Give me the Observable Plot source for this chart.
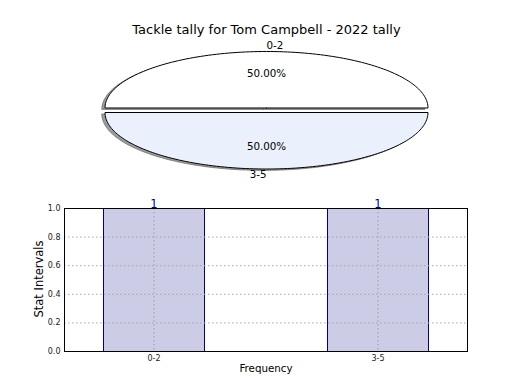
<!DOCTYPE html>
<html><head><meta charset="utf-8">
<script src="https://cdn.jsdelivr.net/npm/d3@7"></script>
<script src="https://cdn.jsdelivr.net/npm/@observablehq/plot@0.6"></script>
<style>
body{margin:0;background:#fff;font-family:"DejaVu Sans",sans-serif;}
#fig{position:relative;width:520px;height:390px;overflow:hidden;background:#fff;}
#title{position:absolute;left:0;width:533px;top:23px;line-height:13px;text-align:center;font-size:13px;color:#000;}
#pie{position:absolute;left:0;top:0;}
#bar{position:absolute;left:0;top:195px;}
</style></head><body>
<div id="fig"><div id="pie"></div><div id="bar"></div><div id="title">Tackle tally for Tom Campbell - 2022 tally</div></div>
<script>
const categories = ["0-2", "3-5"];
const counts = [1, 1];
const pieColors = ["#ffffff", "#ebf1fc"];
const yTicks = [0, 0.2, 0.4, 0.6, 0.8, 1.0];
const title = "Tackle tally for Tom Campbell - 2022 tally";
const xLabel = "Frequency";
const yLabel = "Stat Intervals";

const data = categories.map((c, i) => ({c, v: counts[i]}));
const total = d3.sum(counts);
const explode = 0.04;
let acc = 0;
const wedges = categories.map((c, i) => {
  const a0 = acc, a1 = acc + counts[i] / total * 2 * Math.PI; acc = a1;
  const mid = (a0 + a1) / 2;
  return {c, i, a0, a1, mid, cx: explode * Math.cos(mid), cy: explode * Math.sin(mid), pct: counts[i] / total * 100};
});
function wedgePts(w, ox = 0, oy = 0) {
  const pts = [{x: w.cx + ox, y: w.cy + oy}];
  const n = 120;
  for (let k = 0; k <= n; k++) {
    const t = w.a0 + (w.a1 - w.a0) * k / n;
    pts.push({x: w.cx + ox + Math.cos(t), y: w.cy + oy + Math.sin(t)});
  }
  pts.push({x: w.cx + ox, y: w.cy + oy});
  return pts;
}
const font = {fontFamily: "DejaVu Sans", background: "transparent", overflow: "visible"};

const pie = Plot.plot({
  width: 520, height: 195,
  marginLeft: 104.5, marginRight: 92.5, marginTop: 53.25, marginBottom: 28.75,
  x: {domain: [-1, 1], axis: null},
  y: {domain: [-1, 1], axis: null},
  style: {...font, fontSize: "10px"},
  marks: [
    ...wedges.map(w => Plot.line(wedgePts(w, -0.02, -0.025), {x: "x", y: "y", fill: "#4d4d4d", fillOpacity: 0.55, stroke: "#4d4d4d", strokeOpacity: 0.55, strokeWidth: 1})),
    ...wedges.map(w => Plot.line(wedgePts(w), {x: "x", y: "y", fill: pieColors[w.i], stroke: "black", strokeWidth: 1})),
    Plot.text(wedges, {x: w => w.cx + 0.6 * Math.cos(w.mid), y: w => w.cy + 0.6 * Math.sin(w.mid), text: w => w.pct.toFixed(2) + "%", fontSize: 10.3, fill: "black"}),
    ...wedges.map(w => Plot.text([w], {x: d => d.cx + 1.1 * Math.cos(d.mid), y: d => d.cy + 1.1 * Math.sin(d.mid), text: "c", fontSize: 10.3, fill: "black",
      textAnchor: Math.cos(w.mid) > 0 ? "start" : "end"}))
  ]
});
document.getElementById("pie").append(pie);

const bar = Plot.plot({
  width: 520, height: 195,
  marginLeft: 64, marginRight: 53, marginTop: 13, marginBottom: 39,
  x: {domain: categories, paddingInner: 0.549, paddingOuter: 0.174, align: 0.5, label: null},
  y: {domain: [0, 1], label: null},
  style: {...font, fontSize: "8px"},
  marks: [
    Plot.barY(data, {x: "c", y: "v", fill: "#cccce6", stroke: "#000080", strokeWidth: 1, shapeRendering: "crispEdges"}),
    Plot.gridY({ticks: yTicks, stroke: "#a8a8a8", strokeOpacity: 1, strokeWidth: 1, strokeDasharray: "1.5,2.5"}),
    Plot.gridX({stroke: "#a0a0a0", strokeOpacity: 1, strokeWidth: 1, strokeDasharray: "1.5,2.5"}),
    Plot.frame({stroke: "black", strokeWidth: 1}),
    Plot.axisY({ticks: yTicks, tickFormat: d3.format(".1f"), tickSize: 0, tickPadding: 4, fontSize: 8, label: null, fill: "#222"}),
    Plot.axisX({tickSize: 0, tickPadding: 4, fontSize: 8, label: null, fill: "#222"}),
    Plot.text([yLabel], {frameAnchor: "left", textAnchor: "middle", rotate: -90, dx: -25, dy: -1, fontSize: 11.5, fill: "black"}),
    Plot.text([xLabel], {frameAnchor: "bottom", dy: 20, fontSize: 10.3, fill: "black"}),
    Plot.text(data, {x: "c", y: "v", text: d => String(d.v), fill: "#000080", lineAnchor: "bottom", dy: -1, fontSize: 11.5})
  ]
});
document.getElementById("bar").append(bar);
</script>
</body></html>
